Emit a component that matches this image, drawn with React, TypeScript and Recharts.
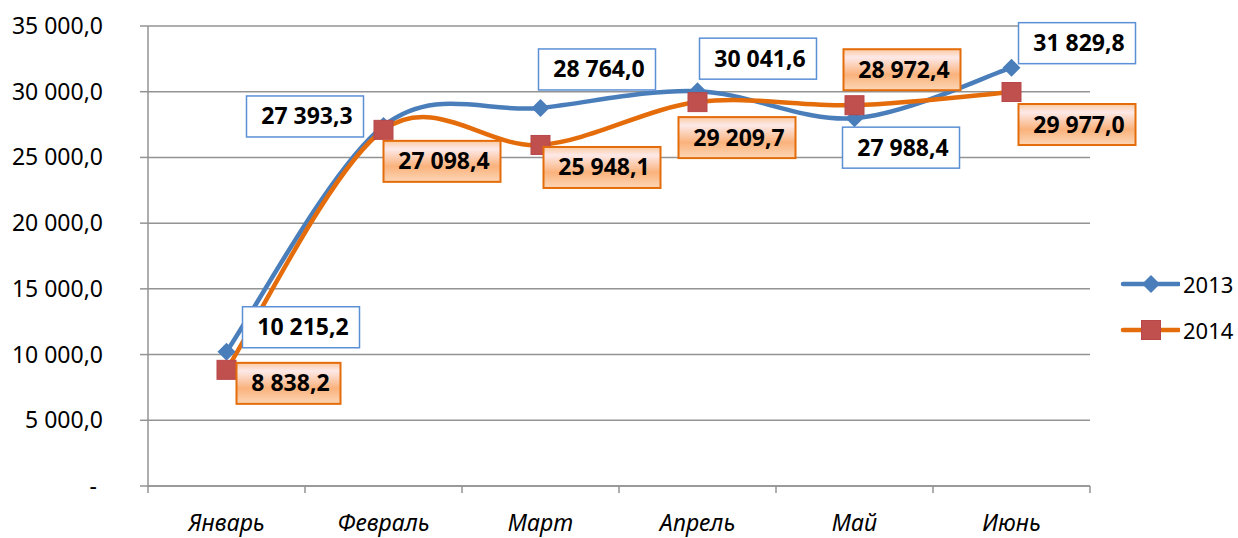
import React from "react";
import {
  LineChart,
  Line,
  XAxis,
  YAxis,
  CartesianGrid,
  Legend,
  LabelList,
} from "recharts";

const months = ["Январь", "Февраль", "Март", "Апрель", "Май", "Июнь"];
const values2013 = [10215.2, 27393.3, 28764.0, 30041.6, 27988.4, 31829.8];
const values2014 = [8838.2, 27098.4, 25948.1, 29209.7, 28972.4, 29977.0];
const yTicks = [0, 5000, 10000, 15000, 20000, 25000, 30000, 35000];

// where each data label box sits, relative to its point (left, top)
const boxOffsets2013: [number, number][] = [
  [16, -45], [-137, -30], [-2, -59], [2, -53], [-12, 9], [7, -45],
];
const boxOffsets2014: [number, number][] = [
  [10, -7], [0, 11], [3, 2], [-19, 15], [-11, -56], [7, 12],
];

const data = months.map((m, i) => ({
  month: m,
  y2013: values2013[i],
  y2014: values2014[i],
}));

const BLUE = "#4a7ebb";
const ORANGE = "#e46c0a";
const RED = "#c0504d";
const GRID = "#939393";
const FONT = "'Noto Sans', sans-serif";

const CHART_W = 1238;
const PLOT_LEFT = 148;
const PLOT_RIGHT = 1090;
const HALF_BAND = (PLOT_RIGHT - PLOT_LEFT) / months.length / 2;

function fmt(v: number) {
  const [int, dec] = v.toFixed(1).split(".");
  return int.replace(/\B(?=(\d{3})+(?!\d))/g, " ") + "," + dec;
}

// Excel-style smoothed line: cubic bezier, tangents = (next - prev) / 6
function excelSmooth(context: any) {
  let xs: number[] = [];
  let ys: number[] = [];
  return {
    areaStart() {},
    areaEnd() {},
    lineStart() {
      xs = [];
      ys = [];
    },
    point(x: number, y: number) {
      xs.push(+x);
      ys.push(+y);
    },
    lineEnd() {
      const n = xs.length;
      if (!n) return;
      context.moveTo(xs[0], ys[0]);
      for (let i = 0; i < n - 1; i++) {
        const a = Math.max(0, i - 1);
        const d = Math.min(n - 1, i + 2);
        const c1x = xs[i] + (xs[i + 1] - xs[a]) / 6;
        const c1y = ys[i] + (ys[i + 1] - ys[a]) / 6;
        const c2x = xs[i + 1] - (xs[d] - xs[i]) / 6;
        const c2y = ys[i + 1] - (ys[d] - ys[i]) / 6;
        context.bezierCurveTo(c1x, c1y, c2x, c2y, xs[i + 1], ys[i + 1]);
      }
    },
  };
}

function Diamond({ cx, cy }: { cx: number; cy: number }) {
  const r = 9;
  return (
    <path
      d={`M${cx},${cy - r}L${cx + r},${cy}L${cx},${cy + r}L${cx - r},${cy}Z`}
      fill={BLUE}
    />
  );
}

function Square({ cx, cy }: { cx: number; cy: number }) {
  const s = 19;
  return (
    <rect x={cx - s / 2} y={cy - s / 2} width={s} height={s} fill={RED} stroke="#b8474a" strokeWidth={1} />
  );
}

function textWidth(s: string, fs: number) {
  let w = 0;
  for (const ch of s) w += /\d/.test(ch) ? 0.572 * fs : 0.26 * fs;
  return w;
}

function ValueBox(props: any) {
  const { x, y, value, index, offsets, orange } = props;
  if (x == null || y == null) return null;
  const fs = 23;
  const label = fmt(Number(value));
  const w = Math.round(textWidth(label, fs) + 26);
  const h = 41;
  const [dx, dy] = offsets[index];
  const left = x + dx;
  const top = y + dy;
  return (
    <g>
      <rect
        x={left}
        y={top}
        width={w}
        height={h}
        fill={orange ? "url(#orangeBox)" : "#ffffff"}
        stroke={orange ? ORANGE : "#5b8fd6"}
        strokeWidth={orange ? 2 : 1.5}
      />
      <text
        x={left + w / 2 + 2}
        y={top + h / 2 + 8}
        textAnchor="middle"
        fontFamily={FONT}
        fontWeight="bold"
        fontSize={fs}
        fill="#000"
      >
        {label}
      </text>
    </g>
  );
}

function YTick(props: any) {
  const { x, y, payload } = props;
  const v = payload.value;
  return (
    <text
      x={v === 0 ? x - 6 : x}
      y={y + 8}
      textAnchor="end"
      fontFamily={FONT}
      fontSize={23}
      fill="#000"
    >
      {v === 0 ? "-" : fmt(v)}
    </text>
  );
}

// month label at band centre, tick marks at band edges
function MonthTick(props: any) {
  const { x, y, payload, index } = props;
  const axisY = y - 29;
  const isLast = index === months.length - 1;
  return (
    <g>
      <line x1={x - HALF_BAND} y1={axisY} x2={x - HALF_BAND} y2={axisY + 7} stroke={GRID} strokeWidth={1.5} />
      {isLast && (
        <line x1={x + HALF_BAND} y1={axisY} x2={x + HALF_BAND} y2={axisY + 7} stroke={GRID} strokeWidth={1.5} />
      )}
      <text
        x={x}
        y={y + 16}
        textAnchor="middle"
        fontFamily={FONT}
        fontSize={23}
        fontStyle="italic"
        fill="#000"
      >
        {payload.value}
      </text>
    </g>
  );
}

function LegendBox() {
  const rows = [
    { name: "2013", color: BLUE, marker: "diamond" },
    { name: "2014", color: ORANGE, marker: "square" },
  ];
  return (
    <div style={{ width: CHART_W - PLOT_RIGHT, fontFamily: FONT, fontSize: 22 }}>
      {rows.map((r) => (
        <div key={r.name} style={{ height: 46, display: "flex", alignItems: "center" }}>
          <svg width={90} height={24} style={{ display: "block" }}>
            <line x1={33} y1={12} x2={89} y2={12} stroke={r.color} strokeWidth={4.5} strokeLinecap="round" />
            {r.marker === "diamond" ? <Diamond cx={61} cy={12} /> : <Square cx={61} cy={12} />}
          </svg>
          <span style={{ marginLeft: 3, color: "#000", lineHeight: "24px" }}>{r.name}</span>
        </div>
      ))}
    </div>
  );
}

export default function App() {
  return (
    <div style={{ position: "absolute", left: 0, top: 0, width: CHART_W, height: 538, background: "#fff" }}>
      <LineChart width={CHART_W} height={538} data={data} margin={{ top: 26, right: 0, bottom: 0, left: 0 }}>
        <defs>
          <linearGradient id="orangeBox" x1="0" y1="0" x2="0" y2="1">
            <stop offset="0%" stopColor="#fbcaa2" />
            <stop offset="20%" stopColor="#fde9e8" />
            <stop offset="62%" stopColor="#fab27c" />
            <stop offset="100%" stopColor="#fcd6b6" />
          </linearGradient>
        </defs>
        <CartesianGrid vertical={false} stroke={GRID} strokeWidth={1.5} />
        <XAxis
          dataKey="month"
          padding={{ left: HALF_BAND, right: HALF_BAND }}
          height={52}
          stroke={GRID}
          strokeWidth={1.5}
          tickLine={false}
          tickSize={0}
          tickMargin={29}
          interval={0}
          tick={MonthTick}
        />
        <YAxis
          domain={[0, 35000]}
          ticks={yTicks}
          width={PLOT_LEFT}
          tickSize={8}
          tickMargin={37}
          stroke={GRID}
          strokeWidth={1.5}
          interval={0}
          tick={YTick}
        />
        <Legend
          layout="vertical"
          align="right"
          verticalAlign="middle"
          wrapperStyle={{ top: 261 }}
          content={() => <LegendBox />}
        />
        <Line
          dataKey="y2013"
          name="2013"
          type={excelSmooth as any}
          stroke={BLUE}
          strokeWidth={4.5}
          isAnimationActive={false}
          activeDot={false}
          dot={(p: any) => <Diamond key={`d${p.index}`} cx={p.cx} cy={p.cy} />}
        >
          <LabelList dataKey="y2013" content={(p: any) => <ValueBox {...p} offsets={boxOffsets2013} />} />
        </Line>
        <Line
          dataKey="y2014"
          name="2014"
          type={excelSmooth as any}
          stroke={ORANGE}
          strokeWidth={4.5}
          isAnimationActive={false}
          activeDot={false}
          dot={(p: any) => <Square key={`s${p.index}`} cx={p.cx} cy={p.cy} />}
        >
          <LabelList dataKey="y2014" content={(p: any) => <ValueBox {...p} offsets={boxOffsets2014} orange />} />
        </Line>
      </LineChart>
    </div>
  );
}
